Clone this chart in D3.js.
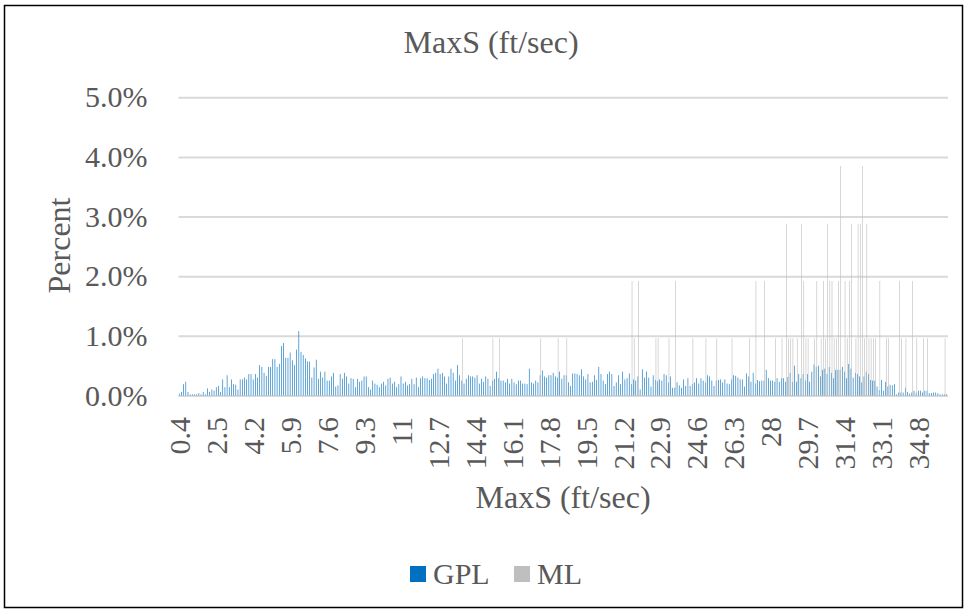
<!DOCTYPE html>
<html>
<head>
<meta charset="utf-8">
<script src="https://cdn.jsdelivr.net/npm/d3@7"></script>
</head>
<body style="margin:0; background:#fff">
<script>
var width = 967,
    height = 613;

// speed classes (ft/sec); first few classes are not contiguous
var categories = [0.4, 0.5, 0.6, 0.7, 0.9, 1, 1.1, 1.2, 1.3, 1.5, 1.6, 1.7, 1.8, 1.9, 2.1, 2.2, 2.4]
    .concat(d3.range(25, 362).map(function(d) { return d / 10; }));

// GPL percent per class
var gplValues = [
  0.03,0.06,0.19,0.23,0.06,0.02,0.02,0.02,0.02,0.04,0.02,0.06,0.02,0.12,0.06,0.10,0.08,
  0.14,0.16,0.06,0.27,0.14,0.34,0.14,0.27,0.19,0.18,0.10,0.27,0.27,0.30,0.27,0.36,0.36,0.27,0.36,0.30,
  0.51,0.48,0.38,0.33,0.48,0.48,0.61,0.61,0.48,0.53,0.83,0.88,0.63,0.63,0.72,0.59,0.51,0.77,1.08,0.73,
  0.68,0.62,0.57,
  0.57,0.30,0.47,0.60,0.28,0.40,0.30,0.40,0.25,0.25,0.32,0.38,0.15,0.17,0.36,0.28,0.38,0.32,0.20,0.29,
  0.28,0.14,0.28,0.23,0.25,0.32,0.32,0.14,0.10,0.25,0.20,0.18,0.14,0.20,0.23,0.17,0.28,0.30,0.20,0.23,
  0.14,0.19,0.32,0.20,0.23,0.17,0.19,0.28,0.19,0.30,0.14,0.29,0.32,0.29,0.29,0.26,0.28,0.36,
  0.38,0.45,0.36,0.38,0.32,0.20,0.32,0.45,0.38,0.25,0.51,0.34,0.25,0.20,0.28,0.34,0.32,0.32,0.30,0.34,
  0.20,0.28,0.23,0.32,0.28,0.16,0.25,0.28,0.40,0.29,0.25,0.25,0.22,0.28,0.20,0.28,0.22,0.19,0.25,0.25,
  0.20,0.20,0.19,0.45,0.22,0.20,0.25,0.22,0.34,0.42,0.32,0.30,0.34,0.34,0.38,0.32,0.30,0.40,0.28,
  0.34,0.34,0.22,0.16,0.37,0.37,0.36,0.34,0.44,0.32,0.27,0.36,0.22,0.23,0.34,0.26,0.48,0.36,0.25,0.19,
  0.36,0.40,0.36,0.16,0.22,0.34,0.19,0.40,0.27,0.29,0.37,0.19,0.27,0.25,0.32,0.10,0.44,0.30,0.40,0.30,
  0.15,0.34,0.26,0.24,0.27,0.25,0.36,0.34,0.22,0.32,0.13,0.13,0.22,0.17,0.13,0.27,0.16,0.29,0.16,0.19,
  0.22,0.29,0.20,0.29,0.25,0.22,0.34,0.32,0.25,0.16,0.25,0.26,0.27,0.22,0.27,0.20,0.19,0.27,0.34,0.33,
  0.30,0.27,
  0.27,0.15,0.37,0.32,0.23,0.38,0.20,0.26,0.24,0.25,0.25,0.43,0.29,0.25,0.25,0.23,0.29,0.23,0.29,0.29,
  0.23,0.31,0.38,0.23,0.50,0.23,0.36,0.29,0.36,0.25,0.36,0.23,0.40,0.52,0.48,0.50,0.32,0.43,0.45,0.36,
  0.48,0.38,0.29,0.43,0.43,0.43,0.48,0.40,0.29,0.53,0.45,0.30,0.38,0.36,0.32,0.22,0.32,0.40,0.36,0.26,
  0.25,0.25,0.15,0.09,0.26,0.08,0.23,0.15,0.18,0.17,0.19,0.02,0.05,0.05,0.05,0.13,0.06,0.03,0.05,0.08,
  0.05,0.08,0.08,0.05,0.08,0.08,0.04,0.04,0.05,0.05,0.04,0.02,0.02,0.02,0.02
];

// ML: only classes that have a non zero percent
var mlSpeeds = [13.8, 15.2, 15.5, 17.4, 18.2, 18.6, 21.6, 21.7, 21.9, 22.7, 22.8, 23.3, 23.6, 24.4, 25.0,
  25.5, 26.2, 27.0, 27.3, 27.7, 28.2, 28.5, 28.7, 28.8, 28.9, 29.0, 29.2, 29.4, 29.5, 29.6, 29.7,
  30.0, 30.1, 30.3, 30.4, 30.5, 30.6, 30.7, 30.8, 30.9, 31.0, 31.1, 31.2, 31.4, 31.5, 31.6, 31.7,
  31.9, 32.0, 32.1, 32.2, 32.3, 32.4, 32.5, 32.6, 32.7, 32.8, 33.0, 33.3, 33.4, 33.9, 34.0, 34.2,
  34.5, 34.7, 35.0, 35.2, 36.0];
var mlValues = [0.96, 0.96, 0.96, 0.96, 0.96, 0.96, 1.92, 0.96, 1.92, 0.96, 0.96, 0.96, 1.92, 0.96, 0.96,
  0.96, 0.96, 0.96, 1.92, 1.92, 0.96, 0.96, 2.88, 0.96, 0.96, 0.96, 0.96, 2.88, 1.92, 0.96, 0.96,
  0.96, 1.92, 0.96, 1.92, 0.96, 2.88, 1.92, 1.92, 0.96, 0.96, 1.92, 3.85, 1.92, 0.96, 1.92, 2.88,
  0.96, 2.88, 2.88, 3.85, 0.96, 2.88, 0.96, 0.96, 0.96, 0.96, 1.92, 0.96, 0.96, 1.92, 0.96, 0.96,
  1.92, 0.96, 0.96, 0.96, 0.96];

var yTicks = [0, 1, 2, 3, 4, 5];
var seriesNames = ["GPL", "ML"];
var seriesColors = ["#0070C0", "#BFBFBF"];

var serif = "'Liberation Serif'";
var textColor = "#595959";

var mlByCat = {};
mlSpeeds.forEach(function(s, i) { mlByCat[s.toFixed(1)] = mlValues[i]; });

var rows = categories.map(function(c, i) {
  return { cat: c, GPL: gplValues[i], ML: mlByCat[c.toFixed(1)] || 0 };
});

var plot = { left: 178.5, right: 948, top: 97.3, bottom: 395.5 };

var svg = d3.select("body").append("svg")
    .attr("width", width)
    .attr("height", height)
    .style("font-family", serif);

svg.append("rect")
    .attr("x", 4.5).attr("y", 5.5)
    .attr("width", 958).attr("height", 602)
    .attr("fill", "#fff")
    .attr("stroke", "#000")
    .attr("stroke-width", 1.5);

var x0 = d3.scaleBand()
    .domain(categories)
    .range([plot.left, plot.right]);

// Excel gap width 150%
var gap = x0.bandwidth() * 1.5 / 3.5;
var x1 = d3.scaleBand()
    .domain(seriesNames)
    .range([gap / 2, x0.bandwidth() - gap / 2]);

var y = d3.scaleLinear()
    .domain([0, 5])
    .range([plot.bottom, plot.top]);

var color = d3.scaleOrdinal().domain(seriesNames).range(seriesColors);

// gridlines + y labels
var yAxis = svg.append("g")
    .attr("transform", "translate(" + plot.left + ",0)")
    .call(d3.axisLeft(y)
      .tickValues(yTicks)
      .tickSize(-(plot.right - plot.left))
      .tickPadding(31)
      .tickFormat(function(d) { return d.toFixed(1) + "%"; }));
yAxis.select(".domain").remove();
yAxis.selectAll("line").attr("stroke", "#D9D9D9").attr("stroke-width", 2);
yAxis.selectAll("text")
    .attr("fill", textColor)
    .style("font-size", "30px")
    .style("font-family", serif);

// bars
var groups = svg.append("g").selectAll("g")
    .data(rows)
  .enter().append("g")
    .attr("transform", function(d) { return "translate(" + x0(d.cat) + ",0)"; });

groups.selectAll("rect")
    .data(function(d) { return seriesNames.map(function(s) { return { key: s, value: d[s] }; }); })
  .enter().append("rect")
    .filter(function(d) { return d.value > 0; })
    .attr("x", function(d) { return x1(d.key); })
    .attr("width", x1.bandwidth())
    .attr("y", function(d) { return y(d.value); })
    .attr("height", function(d) { return y(0) - y(d.value); })
    .attr("fill", function(d) { return color(d.key); });

// x labels every 17th class
var xAxis = svg.append("g")
    .attr("transform", "translate(0," + plot.bottom + ")")
    .call(d3.axisBottom(x0)
      .tickValues(categories.filter(function(d, i) { return i % 17 === 0; }))
      .tickSize(0)
      .tickFormat(function(d) { return String(d); }));
xAxis.select(".domain").remove();
xAxis.selectAll("text")
    .attr("fill", textColor)
    .style("font-size", "30px")
    .style("font-family", serif)
    .attr("text-anchor", "end")
    .attr("transform", "translate(0,21.5) rotate(-90)")
    .attr("x", 0)
    .attr("y", 0)
    .attr("dy", "0.35em");

// titles
svg.append("text")
    .attr("x", 491).attr("y", 53)
    .attr("text-anchor", "middle")
    .attr("fill", textColor)
    .style("font-family", serif)
    .style("font-size", "32px")
    .text("MaxS (ft/sec)");

svg.append("text")
    .attr("x", 563).attr("y", 508)
    .attr("text-anchor", "middle")
    .attr("fill", textColor)
    .style("font-family", serif)
    .style("font-size", "32px")
    .text("MaxS (ft/sec)");

svg.append("text")
    .attr("transform", "translate(70,245.5) rotate(-90)")
    .attr("text-anchor", "middle")
    .attr("fill", textColor)
    .style("font-family", serif)
    .style("font-size", "32px")
    .text("Percent");

// legend
var legendX = [410, 514];
var legend = svg.append("g").selectAll("g")
    .data(seriesNames)
  .enter().append("g")
    .attr("transform", function(d, i) { return "translate(" + legendX[i] + ",566)"; });

legend.append("rect")
    .attr("width", 16).attr("height", 16)
    .attr("fill", function(d) { return color(d); });

legend.append("text")
    .attr("x", 23).attr("y", 18)
    .attr("fill", textColor)
    .style("font-family", serif)
    .style("font-size", "30px")
    .text(function(d) { return d; });
</script>
</body>
</html>
